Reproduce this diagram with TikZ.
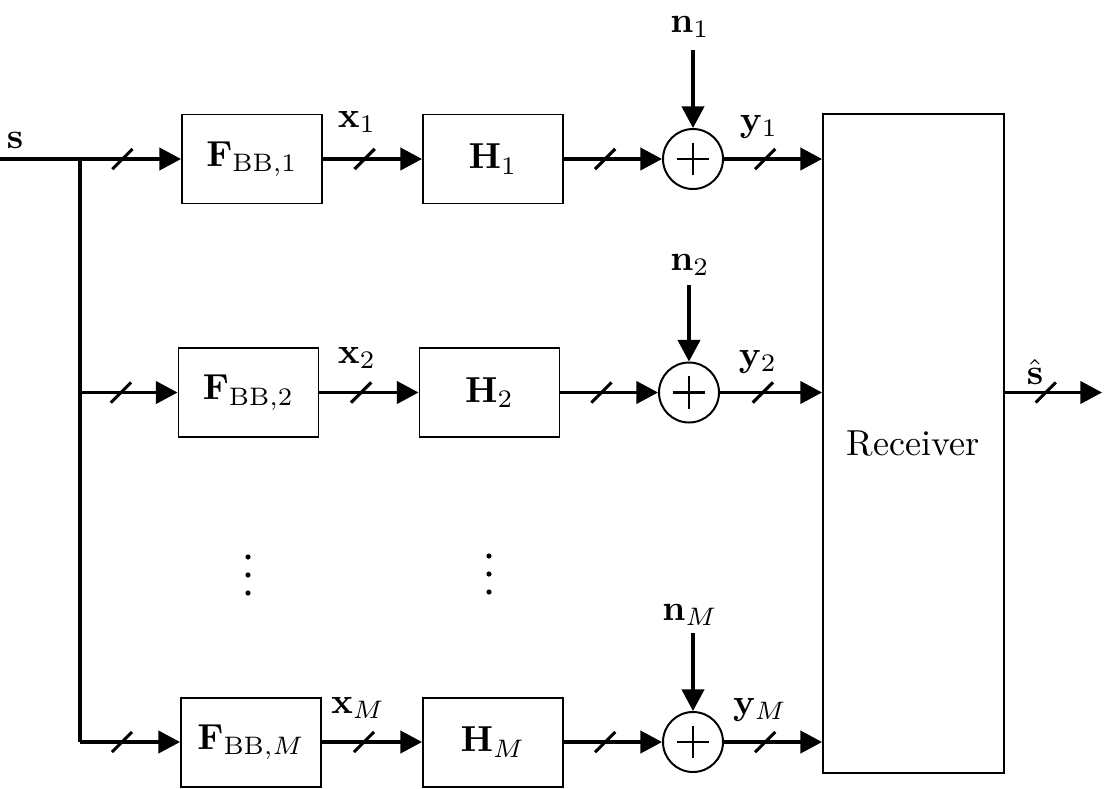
\documentclass[tikz,border=0pt]{standalone}
\usetikzlibrary{arrows.meta,decorations.markings,calc}
\def\u{0.2768pt}
\begin{document}
\begin{tikzpicture}[x=0.2768pt,y=-0.2768pt,
  box/.style={draw, line width=0.55pt, minimum width=140*\u, minimum height=89*\u, inner sep=0},
  adder/.style={draw, circle, line width=0.55pt, minimum size=60*\u, inner sep=0,
    path picture={
      \draw[line width=0.75pt] ([xshift=-4.5pt]path picture bounding box.center) -- ([xshift=4.5pt]path picture bounding box.center);
      \draw[line width=0.75pt] ([yshift=-4.5pt]path picture bounding box.center) -- ([yshift=4.5pt]path picture bounding box.center);}},
  wire/.style={line width=0.85pt},
  conn/.style={wire, -{Triangle[length=6pt,width=6.2pt]}},
  bus/.style={conn, decoration={markings, mark=at position 0.42 with {\draw[line width=0.85pt,-] (-2.8pt,-2.8pt) -- (2.8pt,2.8pt);}}, postaction=decorate},
  lab/.style={inner sep=0}
]
\useasboundingbox (0,0) rectangle (1104,788);

% nodes
\node[box] (F1) at (252,159) {$\mathbf{F}_{\mathrm{BB},1}$};
\node[box] (H1) at (493,159) {$\mathbf{H}_1$};
\node[adder] (A1) at (693,159) {};
\node[box] (F2) at (248.5,392.5) {$\mathbf{F}_{\mathrm{BB},2}$};
\node[box] (H2) at (489.5,392.5) {$\mathbf{H}_2$};
\node[adder] (A2) at (689,392.5) {};
\node[box] (FM) at (251,742) {$\mathbf{F}_{\mathrm{BB},M}$};
\node[box] (HM) at (493,742) {$\mathbf{H}_M$};
\node[adder] (AM) at (693,742) {};
\node[draw, line width=0.55pt, minimum width=181*\u, minimum height=659*\u, inner sep=0] (rec) at (913.5,443.5) {Receiver};

% coordinates
\coordinate (in) at (0,159);
\coordinate (br1) at (80,159);
\coordinate (br2) at (80,392.5);
\coordinate (brM) at (80,742);
\coordinate (out) at (1102,392.5);
\coordinate (n1s) at (693,50);
\coordinate (n2s) at (689,285);
\coordinate (nMs) at (693,633);

% input distribution
\draw[wire] (in) -- (br1) -- (brM);
\draw[bus] (br1) -- (F1);
\draw[bus] (br2) -- (F2);
\draw[bus] (brM) -- (FM);

% chains
\draw[bus] (F1) -- (H1);
\draw[bus] (H1) -- (A1);
\draw[bus] (A1) -- (A1 -| rec.west);
\draw[bus] (F2) -- (H2);
\draw[bus] (H2) -- (A2);
\draw[bus] (A2) -- (A2 -| rec.west);
\draw[bus] (FM) -- (HM);
\draw[bus] (HM) -- (AM);
\draw[bus] (AM) -- (AM -| rec.west);

% noise
\draw[conn] (n1s) -- (A1);
\draw[conn] (n2s) -- (A2);
\draw[conn] (nMs) -- (AM);

% output
\draw[bus] (rec.east |- out) -- (out);

% labels
\node[lab] (ls) at (15,140) {$\mathbf{s}$};
\node[lab] (lx1) at (357,122) {$\mathbf{x}_1$};
\node[lab] (ly1) at (759,127) {$\mathbf{y}_1$};
\node[lab] (ln1) at (690,27) {$\mathbf{n}_1$};
\node[lab] (lx2) at (357,358) {$\mathbf{x}_2$};
\node[lab] (ly2) at (758,362) {$\mathbf{y}_2$};
\node[lab] (ln2) at (690,265) {$\mathbf{n}_2$};
\node[lab] (lxM) at (358,708) {$\mathbf{x}_M$};
\node[lab] (lyM) at (760,710) {$\mathbf{y}_M$};
\node[lab] (lnM) at (690,615) {$\mathbf{n}_M$};
\node[lab] (lsh) at (1035,372) {$\hat{\mathbf{s}}$};

% dots
\foreach \yy in {557,575,593} {
  \fill (248,\yy) circle[radius=2.6];
  \fill (489,\yy-1) circle[radius=2.6];
}
\end{tikzpicture}
\end{document}
